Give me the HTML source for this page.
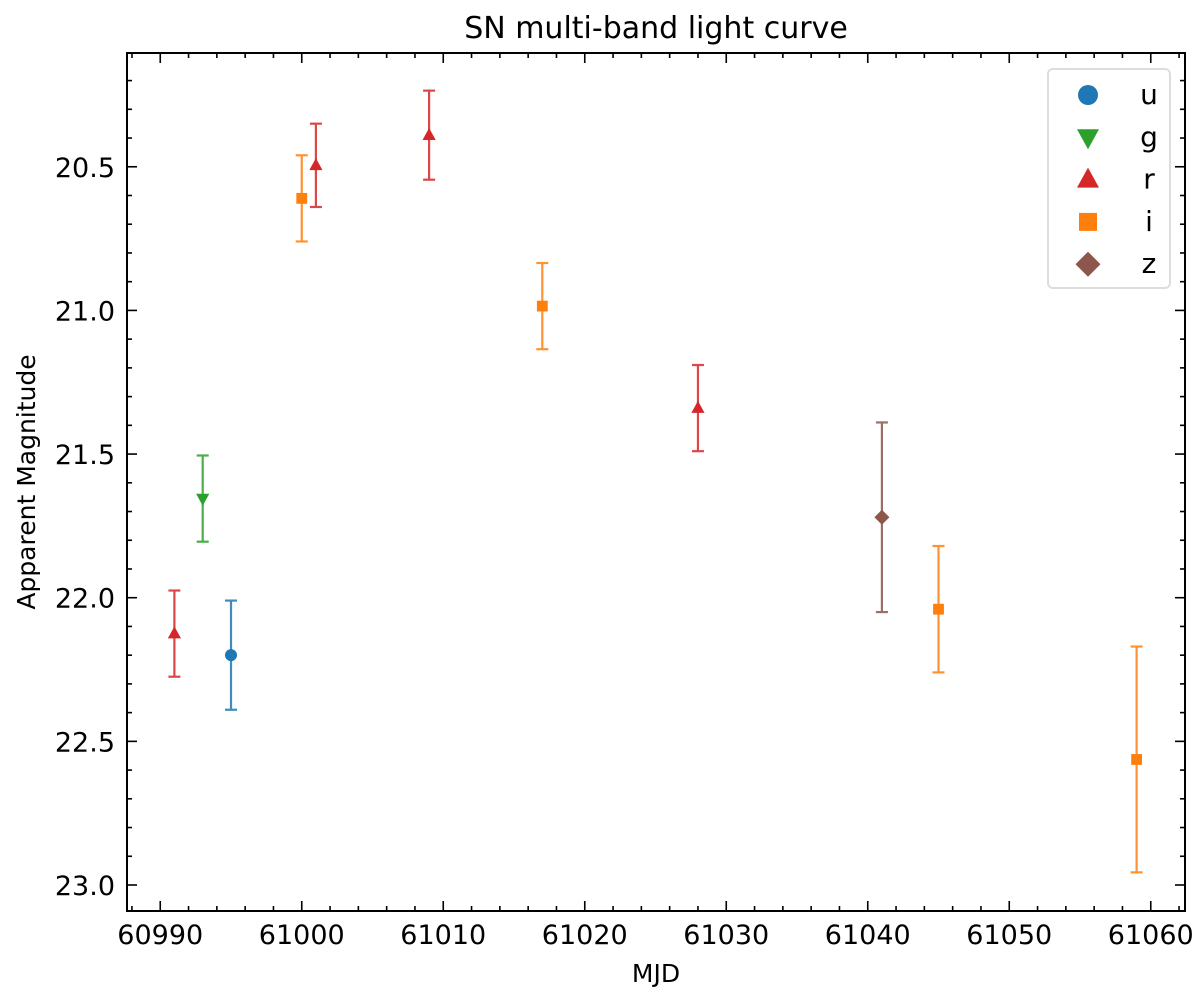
<!DOCTYPE html>
<html><head><meta charset="utf-8"><style>
html,body{margin:0;padding:0;background:#fff;}
svg{display:block;font-family:"DejaVu Sans","Liberation Sans",sans-serif;}
</style></head><body>
<svg id="chart" width="1200" height="993" viewBox="0 0 1200 993"></svg>
<script>
const bands = ['u','g','r','i','z'];
const colors = {u:'#1f77b4',g:'#2ca02c',r:'#d62728',i:'#ff7f0e',z:'#8c564b'};
const uMJD=[60995], uMag=[22.20], uErr=[0.19];
const gMJD=[60993], gMag=[21.655], gErr=[0.15];
const rMJD=[60991,61001,61009,61028], rMag=[22.125,20.495,20.39,21.34], rErr=[0.15,0.145,0.155,0.15];
const iMJD=[61000,61017,61045,61059], iMag=[20.61,20.985,22.04,22.563], iErr=[0.15,0.15,0.22,0.393];
const zMJD=[61041], zMag=[21.72], zErr=[0.33];
const xTicks=[60990,61000,61010,61020,61030,61040,61050,61060];
const yTicks=[20.5,21.0,21.5,22.0,22.5,23.0];

const NS='http://www.w3.org/2000/svg';
const svg=document.getElementById('chart');
const L=127,R=1185,T=53,B=911;
const xMin=60987.65,xMax=61062.42,yMin=20.104,yMax=23.0905;
const X=v=>L+(v-xMin)/(xMax-xMin)*(R-L);
const Y=v=>T+(v-yMin)/(yMax-yMin)*(B-T);
function el(tag,attrs,parent){const e=document.createElementNS(NS,tag);for(const k in attrs)e.setAttribute(k,attrs[k]);(parent||svg).appendChild(e);return e;}
function marker(band,cx,cy,s,g){
  const c=colors[band];let e;
  if(band==='u') e=el('circle',{cx,cy,r:s},g);
  else if(band==='g') e=el('polygon',{points:`${cx-s*1.1},${cy-s*0.8} ${cx+s*1.1},${cy-s*0.8} ${cx},${cy+s*1.2}`},g);
  else if(band==='r') e=el('polygon',{points:`${cx-s*1.1},${cy+s*0.8} ${cx+s*1.1},${cy+s*0.8} ${cx},${cy-s*1.2}`},g);
  else if(band==='i') e=el('rect',{x:cx-s*0.9,y:cy-s*0.9,width:s*1.8,height:s*1.8},g);
  else e=el('polygon',{points:`${cx},${cy-s*1.25} ${cx+s*1.25},${cy} ${cx},${cy+s*1.25} ${cx-s*1.25},${cy}`},g);
  e.setAttribute('fill',c);return e;
}
const title=el('text',{x:656,y:38,'text-anchor':'middle','font-size':30,fill:'#000'});title.textContent='SN multi-band light curve';


const frame=el('rect',{x:L,y:T,width:R-L,height:B-T,fill:'none',stroke:'#000','stroke-width':2});


const ticksG=el('g',{stroke:'#000','stroke-width':1.6});


for(let v=60988;v<=61062;v+=2){const x=X(v);const maj=(v%10===0);const len=maj?10:5;
  el('line',{x1:x,y1:B,x2:x,y2:B-len},ticksG);el('line',{x1:x,y1:T,x2:x,y2:T+len},ticksG);}
for(let k=202;k<=230;k++){const v=k/10;const y=Y(v);const maj=(k%5===0);const len=maj?10:5;
  el('line',{x1:L,y1:y,x2:L+len,y2:y},ticksG);el('line',{x1:R,y1:y,x2:R-len,y2:y},ticksG);}
xTicks.forEach(v=>{const t=el('text',{x:X(v),y:944,'text-anchor':'middle','font-size':27});t.textContent=v;
  
  });
yTicks.forEach(v=>{const t=el('text',{x:115,y:Y(v)+10,'text-anchor':'end','font-size':27});t.textContent=v.toFixed(1);
  
  });
const xl=el('text',{x:656,y:982,'text-anchor':'middle','font-size':25});xl.textContent='MJD';


const yl=el('text',{x:0,y:0,'text-anchor':'middle','font-size':25,transform:`translate(35,${(T+B)/2}) rotate(-90)`});yl.textContent='Apparent Magnitude';


const data={u:[uMJD,uMag,uErr],g:[gMJD,gMag,gErr],r:[rMJD,rMag,rErr],i:[iMJD,iMag,iErr],z:[zMJD,zMag,zErr]};
bands.forEach(b=>{
  const [xs,ys,es]=data[b];
  const g=el('g',{});
  
  
  xs.forEach((xv,k)=>{
    const x=X(xv),y1=Y(ys[k]-es[k]),y2=Y(ys[k]+es[k]);
    const eg=el('g',{stroke:colors[b],'stroke-width':2.2,opacity:0.85},g);
    
    
    el('line',{x1:x,y1:y1,x2:x,y2:y2},eg);
    el('line',{x1:x-6,y1:y1,x2:x+6,y2:y1},eg);
    el('line',{x1:x-6,y1:y2,x2:x+6,y2:y2},eg);
    const m=marker(b,x,Y(ys[k]),6,g);
    
    
  });
});
const lg=el('g',{});


el('rect',{x:1048,y:69,width:122,height:219,rx:5,fill:'#fff',stroke:'#ddd','stroke-width':2},lg);
bands.forEach((b,k)=>{
  const y=95+k*42.3;
  const e=el('g',{},lg);
  
  
  marker(b,1088,y,10,e);
  const t=el('text',{x:1149,y:y+9,'text-anchor':'middle','font-size':28},e);t.textContent=b;
});
</script>
</body></html>
